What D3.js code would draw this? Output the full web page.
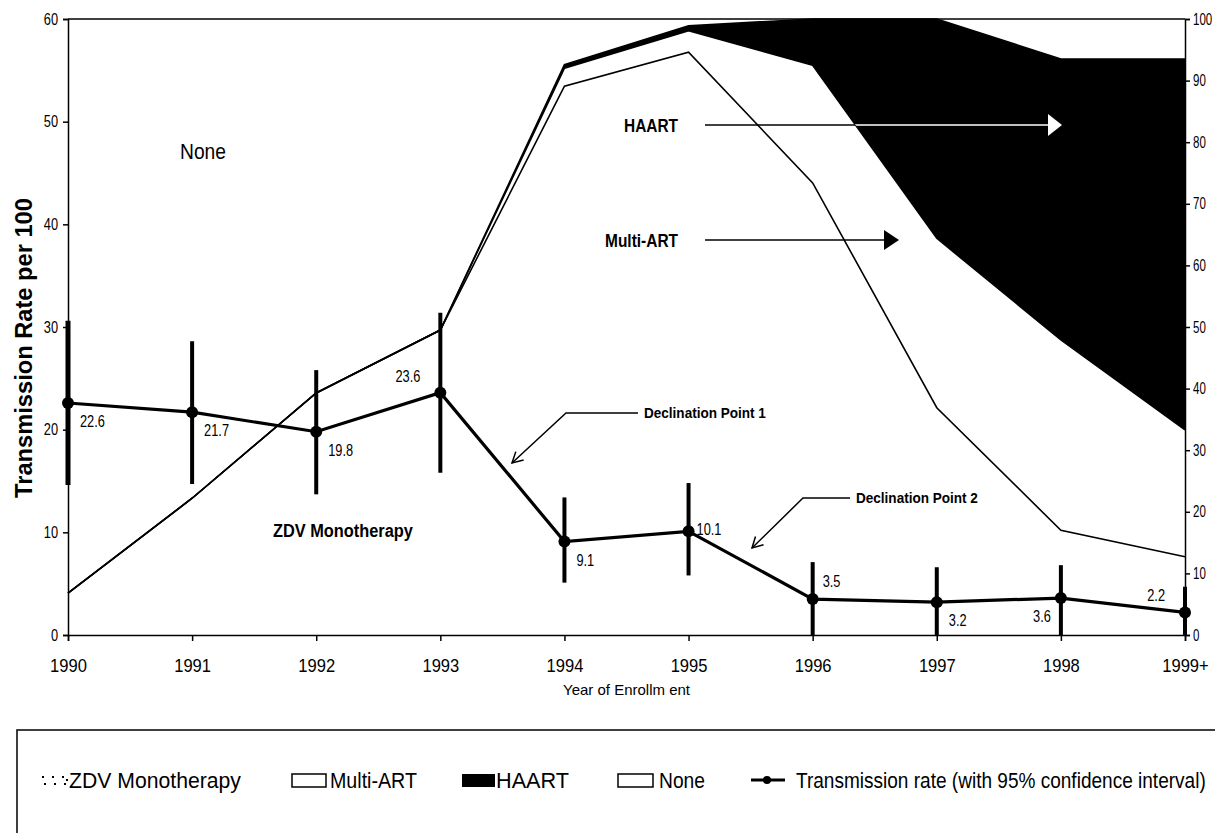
<!DOCTYPE html>
<meta charset="utf-8">
<style>
body { margin: 0; background: #fff; }
svg { font-family: "Liberation Sans", Arial, sans-serif; }
.axis path, .axis line { stroke: #000; stroke-width: 1.5px; fill: none; }
.axis text { font-size: 16px; fill: #000; }
.note { font-weight: bold; }
</style>
<body>
<script src="https://d3js.org/d3.v7.min.js"></script>
<script>
// categories
var years = ["1990", "1991", "1992", "1993", "1994", "1995", "1996", "1997", "1998", "1999+"];

// transmission rate per 100 with 95% CI
var rate   = [22.6, 21.7, 19.8, 23.6, 9.1, 10.1, 3.5, 3.2, 3.6, 2.2];
var ciLow  = [14.6, 14.7, 13.7, 15.8, 5.1, 5.8, 0, 0, 0, 0];
var ciHigh = [30.6, 28.6, 25.8, 31.4, 13.4, 14.8, 7.1, 6.6, 6.8, 4.7];

// treatment share, % (right axis)
var zdvShare   = [6.8, 22.2, 39.3, 49.5, 89.1, 94.6, 73.4, 36.9, 17.0, 12.7];
var multiShare = [0, 0, 0, 0, 2.9, 3.5, 19.1, 27.5, 30.9, 20.6];
var haartShare = [0, 0, 0, 0, 0.6, 0.8, 7.5, 35.6, 45.6, 60.2];
var noneShare  = [93.2, 77.8, 60.7, 50.5, 7.4, 1.1, 0, 0, 6.5, 6.5];

var leftTicks  = [0, 10, 20, 30, 40, 50, 60];
var rightTicks = [0, 10, 20, 30, 40, 50, 60, 70, 80, 90, 100];

// where each value label sits around its point
var labelSide = ["br", "br", "br", "tl", "br", "r", "tr", "br", "bl", "tl"];

var margin = { top: 19, left: 68 };
var width = 1117, height = 616;

// the original uses a narrow face: squeeze text with a horizontal scale
function narrow(sel, k, extra) {
  sel.each(function() {
    var t = d3.select(this);
    var x0 = +t.attr("x") || 0, y0 = +t.attr("y") || 0;
    t.attr("x", 0).attr("y", 0)
      .attr("transform", "translate(" + x0 + "," + y0 + ")" + (extra || "") + " scale(" + k + ",1)");
  });
}
function fit(sel, w, extra) {
  sel.each(function() {
    narrow(d3.select(this), w / this.getComputedTextLength(), extra);
  });
}

var svg = d3.select("body").append("svg")
    .attr("width", 1215)
    .attr("height", 833);

var g = svg.append("g")
    .attr("transform", "translate(" + margin.left + "," + margin.top + ")");

var x = d3.scalePoint().domain(years).range([0, width]);
var yL = d3.scaleLinear().domain([0, 60]).range([height, 0]);
var yR = d3.scaleLinear().domain([0, 100]).range([height, 0]);

var rows = years.map(function(d, i) {
  return { year: d, zdv: zdvShare[i], multi: multiShare[i], haart: haartShare[i], none: noneShare[i] };
});
var stack = d3.stack().keys(["zdv", "multi", "haart", "none"])(rows);

var area = d3.area()
  .x(function(d) { return x(d.data.year); })
  .y0(function(d) { return yR(d[0]); })
  .y1(function(d) { return yR(d[1]); });

var topLine = d3.line()
  .x(function(d) { return x(d.data.year); })
  .y(function(d) { return yR(d[1]); });

var fills = { zdv: "#fff", multi: "#fff", haart: "#000", none: "#fff" };

g.selectAll("path.layer")
  .data(stack)
  .enter().append("path")
    .attr("class", "layer")
    .attr("d", area)
    .style("fill", function(d) { return fills[d.key]; })
    .style("stroke", "none");

g.append("clipPath").attr("id", "haartClip")
  .append("path").attr("d", area(stack[2]));

// boundaries
g.selectAll("path.edge")
  .data(stack.slice(0, 3))
  .enter().append("path")
    .attr("class", "edge")
    .attr("d", topLine)
    .style("fill", "none")
    .style("stroke", "#000")
    .style("stroke-width", 1.6);

// frame top
g.append("line")
  .attr("x1", 0).attr("x2", width)
  .attr("y1", 0).attr("y2", 0)
  .style("stroke", "#000").style("stroke-width", 1.5);

// axes
var xAx = g.append("g").attr("class", "axis")
  .attr("transform", "translate(0," + height + ")")
  .call(d3.axisBottom(x).tickSize(6).tickPadding(18));
xAx.selectAll("text").style("font-size", "18px");
narrow(xAx.selectAll("text"), 0.92);

var lAx = g.append("g").attr("class", "axis")
  .call(d3.axisLeft(yL).tickValues(leftTicks).tickSize(5).tickPadding(5));
narrow(lAx.selectAll("text"), 0.8);

var rAx = g.append("g").attr("class", "axis")
  .attr("transform", "translate(" + width + ",0)")
  .call(d3.axisRight(yR).tickValues(rightTicks).tickSize(5).tickPadding(3));
narrow(rAx.selectAll("text"), 0.72);

g.selectAll(".axis .domain").style("stroke-width", 1.5);

svg.append("text")
  .attr("x", 32).attr("y", 348)
  .attr("text-anchor", "middle")
  .style("font-weight", "bold")
  .style("font-size", "23px")
  .text("Transmission Rate per 100")
  .call(fit, 300, " rotate(-90)");

svg.append("text")
  .attr("x", margin.left + width / 2)
  .attr("y", 695)
  .attr("text-anchor", "middle")
  .style("font-size", "14px")
  .text("Year of Enrollm ent")
  .call(fit, 127);

// area annotations
g.append("text").attr("x", 112).attr("y", 140)
  .style("font-size", "22px").text("None").call(fit, 46);

g.append("text").attr("x", 205).attr("y", 518)
  .attr("class", "note").style("font-size", "18px").text("ZDV Monotherapy").call(fit, 140);

g.append("text").attr("x", 610).attr("y", 113)
  .attr("class", "note").attr("text-anchor", "end").style("font-size", "18px")
  .text("HAART").call(fit, 54);
g.append("text").attr("x", 610).attr("y", 228)
  .attr("class", "note").attr("text-anchor", "end").style("font-size", "18px")
  .text("Multi-ART").call(fit, 73);

// HAART arrow: black over white, white over black
var hy = 106;
g.append("line").attr("x1", 637).attr("x2", 980).attr("y1", hy).attr("y2", hy)
  .style("stroke", "#000").style("stroke-width", 1.3);
g.append("line").attr("x1", 637).attr("x2", 980).attr("y1", hy).attr("y2", hy)
  .attr("clip-path", "url(#haartClip)")
  .style("stroke", "#fff").style("stroke-width", 1.3);
g.append("path").attr("d", "M980," + (hy - 11) + "L994," + hy + "L980," + (hy + 11) + "Z")
  .style("fill", "#fff");

var my = 221;
g.append("line").attr("x1", 637).attr("x2", 818).attr("y1", my).attr("y2", my)
  .style("stroke", "#000").style("stroke-width", 1.5);
g.append("path").attr("d", "M816," + (my - 10) + "L831," + my + "L816," + (my + 10) + "Z")
  .style("fill", "#000");

// declination callouts
function callout(tx, ty, bx, tipx, tipy, label) {
  g.append("text").attr("x", tx).attr("y", ty + 5)
    .attr("class", "note").style("font-size", "15px").text(label).call(fit, 122);
  g.append("path")
    .attr("d", "M" + (tx - 6) + "," + ty + "L" + bx + "," + ty + "L" + tipx + "," + tipy)
    .style("fill", "none").style("stroke", "#000").style("stroke-width", 1.5);
  var a = Math.atan2(tipy - ty, tipx - bx);
  var l = 12, s = 0.5;
  g.append("path")
    .attr("d", "M" + (tipx - l * Math.cos(a - s)) + "," + (tipy - l * Math.sin(a - s)) +
      "L" + tipx + "," + tipy +
      "L" + (tipx - l * Math.cos(a + s)) + "," + (tipy - l * Math.sin(a + s)))
    .style("fill", "none").style("stroke", "#000").style("stroke-width", 1.5);
}
callout(576, 394, 498, 444, 444, "Declination Point 1");
callout(788, 479, 735, 684, 529, "Declination Point 2");

// transmission rate
g.selectAll("line.ci")
  .data(years)
  .enter().append("line")
    .attr("class", "ci")
    .attr("x1", function(d) { return x(d); })
    .attr("x2", function(d) { return x(d); })
    .attr("y1", function(d, i) { return yL(ciLow[i]); })
    .attr("y2", function(d, i) { return yL(ciHigh[i]); })
    .style("stroke", "#000")
    .style("stroke-width", function(d, i) { return i === 0 ? 5 : 4; });

g.append("path")
  .datum(rate)
  .attr("d", d3.line()
    .x(function(d, i) { return x(years[i]); })
    .y(function(d) { return yL(d); }))
  .style("fill", "none")
  .style("stroke", "#000")
  .style("stroke-width", 3.2);

g.selectAll("circle.pt")
  .data(rate)
  .enter().append("circle")
    .attr("class", "pt")
    .attr("cx", function(d, i) { return x(years[i]); })
    .attr("cy", function(d) { return yL(d); })
    .attr("r", 6)
    .style("fill", "#000");

var off = {
  br: [12, 24, "start"], tl: [-20, -11, "end"], r: [8, 4, "start"],
  tr: [10, -12, "start"], bl: [-10, 24, "end"]
};
var vals = g.selectAll("text.val")
  .data(rate)
  .enter().append("text")
    .attr("class", "val")
    .attr("x", function(d, i) { return x(years[i]) + off[labelSide[i]][0]; })
    .attr("y", function(d, i) { return yL(d) + off[labelSide[i]][1]; })
    .attr("text-anchor", function(d, i) { return off[labelSide[i]][2]; })
    .style("font-size", "16px")
    .text(function(d) { return d3.format(".1f")(d); });
narrow(vals, 0.8);

// legend
var leg = svg.append("g");
leg.append("rect")
  .attr("x", 17).attr("y", 730).attr("width", 1230).attr("height", 140)
  .style("fill", "none").style("stroke", "#000").style("stroke-width", 1.5);

var ly = 780;
[[42, -4], [44, 3], [52, -4], [54, 3], [62, -4], [64, 3], [66, -1]].forEach(function(p) {
  leg.append("rect").attr("x", p[0]).attr("y", ly + p[1]).attr("width", 2).attr("height", 2).style("fill", "#000");
});
leg.append("text").attr("x", 69).attr("y", ly + 8).style("font-size", "22px")
  .text("ZDV Monotherapy").call(fit, 172);

leg.append("rect").attr("x", 292).attr("y", ly - 6).attr("width", 34).attr("height", 13)
  .style("fill", "#fff").style("stroke", "#000").style("stroke-width", 1.5);
leg.append("text").attr("x", 330).attr("y", ly + 8).style("font-size", "22px")
  .text("Multi-ART").call(fit, 87);

leg.append("rect").attr("x", 462).attr("y", ly - 6).attr("width", 33).attr("height", 13)
  .style("fill", "#000");
leg.append("text").attr("x", 496).attr("y", ly + 8).style("font-size", "22px")
  .text("HAART").call(fit, 73);

leg.append("rect").attr("x", 618).attr("y", ly - 6).attr("width", 35).attr("height", 13)
  .style("fill", "#fff").style("stroke", "#000").style("stroke-width", 1.5);
leg.append("text").attr("x", 659).attr("y", ly + 8).style("font-size", "22px")
  .text("None").call(fit, 46);

leg.append("line").attr("x1", 751).attr("x2", 785).attr("y1", ly).attr("y2", ly)
  .style("stroke", "#000").style("stroke-width", 3);
leg.append("circle").attr("cx", 767).attr("cy", ly).attr("r", 4).style("fill", "#000");
leg.append("text").attr("x", 796).attr("y", ly + 8).style("font-size", "22px")
  .text("Transmission rate (with 95% confidence interval)").call(fit, 410);
</script>
</body>
